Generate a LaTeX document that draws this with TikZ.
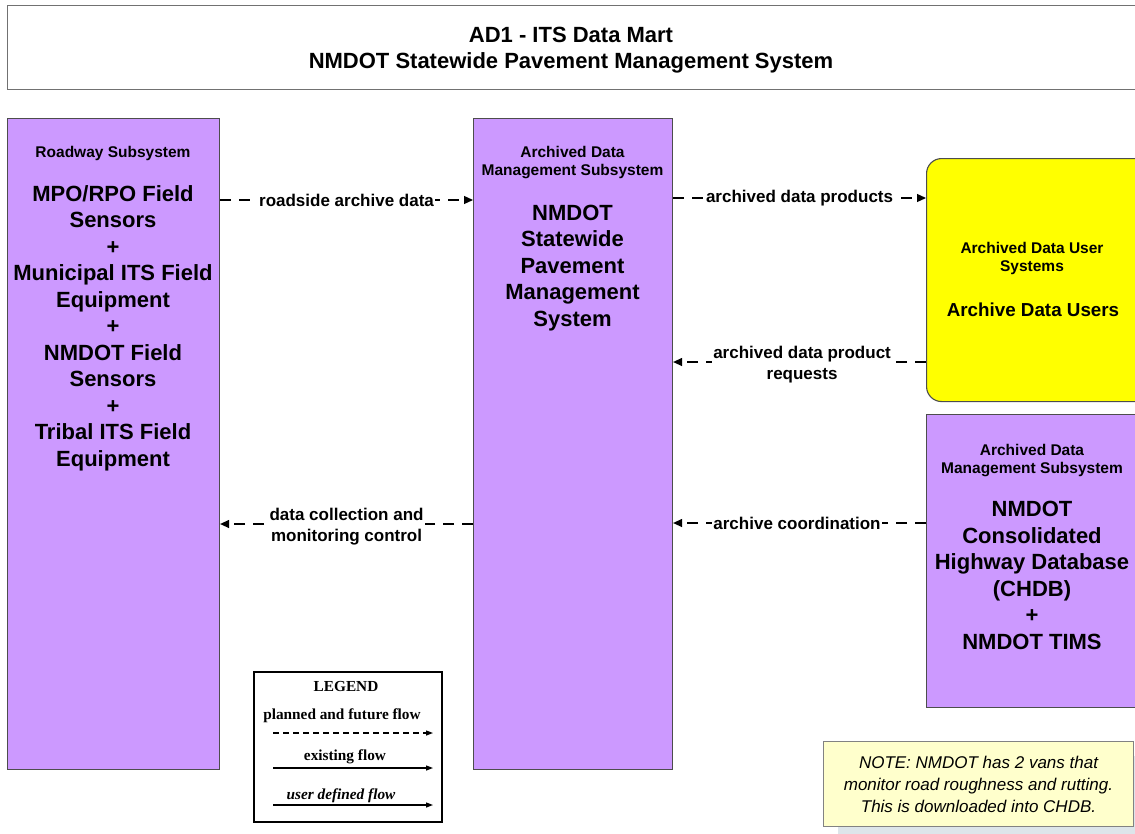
\documentclass[tikz,border=0pt]{standalone}
\usepackage{fontspec}
\setmainfont{Liberation Sans}
\newfontfamily\timesf{Liberation Serif}
\usetikzlibrary{arrows.meta}
\definecolor{purp}{HTML}{CC99FF}
\definecolor{yel}{HTML}{FFFF00}
\definecolor{notefill}{HTML}{FFFFCC}
\definecolor{shadowc}{HTML}{DDE5EA}
\definecolor{edgec}{HTML}{4D4D4D}
\begin{document}
\begin{tikzpicture}[x=1pt,y=-1pt,
  sysbox/.style={draw=edgec,line width=1.1pt,fill=purp,rectangle,inner sep=0pt,anchor=north west},
  hdr/.style={font=\bfseries\fontsize{15.5}{18.5}\selectfont,align=center,inner sep=0pt,anchor=base},
  big/.style={font=\bfseries\fontsize{22}{26.5}\selectfont,align=center,inner sep=0pt,anchor=base},
  flow/.style={line width=1.2pt,dash pattern=on 11pt off 8pt,-{Triangle[length=9pt,width=8pt]}},
  flab/.style={font=\bfseries\fontsize{17}{21}\selectfont,align=center,fill=white,inner sep=1pt},
  legtxt/.style={font=\timesf\bfseries\fontsize{15.3}{18}\selectfont,inner sep=0pt},
  legline/.style={line width=1.2pt,-{Triangle[length=7pt,width=5pt]}}]
\useasboundingbox (0,0) rectangle (1135,833);
\clip (0,0) rectangle (1135,833);
% title
\node[draw=edgec!80,line width=1.1pt,fill=white,rectangle,inner sep=0pt,anchor=north west,
  minimum width=1140pt,minimum height=84pt] (title) at (7,5) {};
\node[big,font=\bfseries\fontsize{22}{26}\selectfont] (titletxt) at (571,68) {AD1 - ITS Data Mart\\NMDOT Statewide Pavement Management System};
% roadway
\node[sysbox,minimum width=212pt,minimum height=651pt] (rw) at (7,118) {};
\node[hdr] (rwh) at (113,157.5) {Roadway Subsystem};
\node[big] (rwt) at (113,466) {MPO/RPO Field\\Sensors\\+\\Municipal ITS Field\\Equipment\\+\\NMDOT Field\\Sensors\\+\\Tribal ITS Field\\Equipment};
% archived data mgmt
\node[sysbox,minimum width=199pt,minimum height=651pt] (ad) at (473,118) {};
\node[hdr] (adh) at (572.5,175.5) {Archived Data\\Management Subsystem};
\node[big] (adt) at (572.5,326) {NMDOT\\Statewide\\Pavement\\Management\\System};
% archive data users
\node[draw=edgec,line width=1.1pt,fill=yel,rectangle,rounded corners=15pt,inner sep=0pt,anchor=north west,
  minimum width=240pt,minimum height=243pt] (ud) at (926,158) {};
\node[hdr] (udh) at (1032,271.5) {Archived Data User\\Systems};
\node[big,font=\bfseries\fontsize{18.8}{22}\selectfont] (udt) at (1033,316.5) {Archive Data Users};
% CHDB
\node[sysbox,minimum width=240pt,minimum height=293pt] (ch) at (926,414) {};
\node[hdr] (chh) at (1032,473.5) {Archived Data\\Management Subsystem};
\node[big] (cht) at (1032,649) {NMDOT\\Consolidated\\Highway Database\\(CHDB)\\+\\NMDOT TIMS};
% flows
\draw[flow] (rw.east |- 0,200) -- node[flab] (f1) {roadside archive data} (ad.west |- 0,200);
\draw[flow] (ad.east |- 0,198) -- node[flab] (f2) {archived data products} (ud.west |- 0,198);
\draw[flow] (ud.west |- 0,362) -- node[flab,pos=0.49,yshift=-3pt] (f3) {archived data product\\requests} (ad.east |- 0,362);
\draw[flow] (ch.west |- 0,523) -- node[flab,pos=0.51] (f4) {archive coordination} (ad.east |- 0,523);
\draw[flow] (ad.west |- 0,524) -- node[flab,pos=0.5,yshift=-3pt] (f5) {data collection and\\monitoring control} (rw.east |- 0,524);
% legend
\node[draw=black,line width=1.5pt,fill=white,rectangle,inner sep=0pt,anchor=north west,
  minimum width=188pt,minimum height=150pt] (legend) at (253,671) {};
\node[legtxt] (lg0) at (346,686) {LEGEND};
\node[legtxt] (lg1) at (342,716) {planned and future flow};
\node[legtxt] (lg2) at (345,757) {existing flow};
\node[legtxt,font=\timesf\bfseries\itshape\fontsize{15.3}{18}\selectfont] (lg3) at (341,796) {user defined flow};
\coordinate (la1) at (273,733); \coordinate (lb1) at (433,733);
\coordinate (la2) at (273,768); \coordinate (lb2) at (433,768);
\coordinate (la3) at (273,805); \coordinate (lb3) at (433,805);
\draw[legline,dash pattern=on 6pt off 4pt] (la1) -- (lb1);
\draw[legline] (la2) -- (lb2);
\draw[legline] (la3) -- (lb3);
% note
\fill[shadowc] (838,756) rectangle (1150,841);
\node[draw=edgec!70,line width=1pt,fill=notefill,rectangle,inner sep=0pt,anchor=north west,
  minimum width=310pt,minimum height=85pt,align=center,
  font=\itshape\fontsize{17}{22}\selectfont] (note) at (823,741) {NOTE: NMDOT has 2 vans that\\monitor road roughness and rutting.\\This is downloaded into CHDB.};
\end{tikzpicture}
\end{document}
